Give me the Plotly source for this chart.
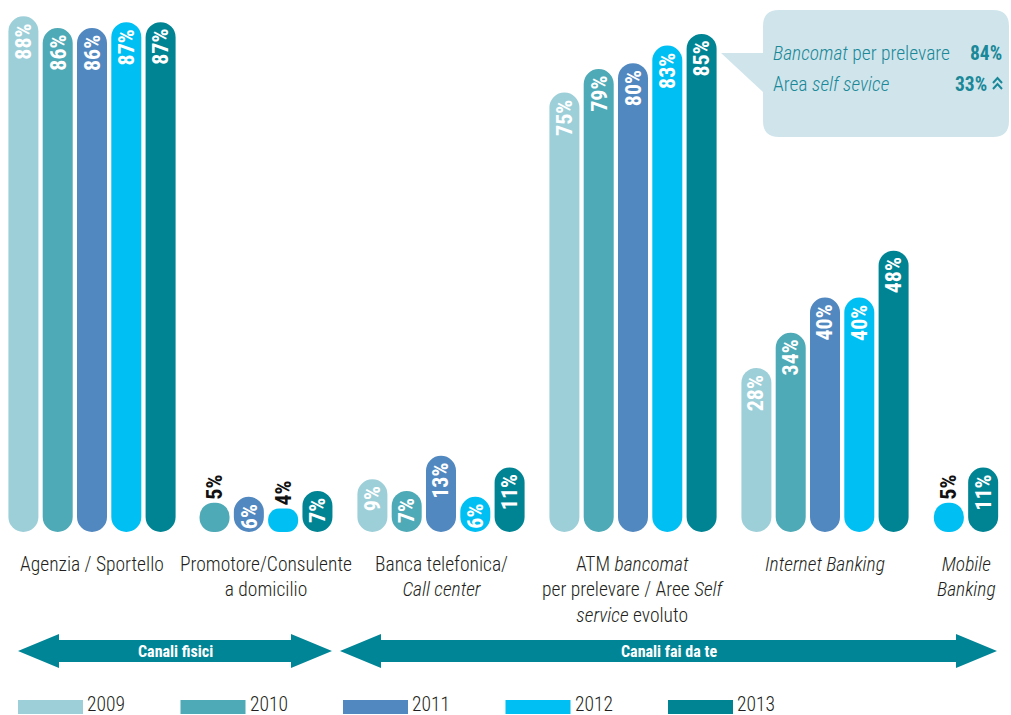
import plotly.graph_objects as go

# ---- data -------------------------------------------------------------
CATEGORIES = [
    "Agenzia / Sportello",
    "Promotore/Consulente<br>a domicilio",
    "Banca telefonica/<br><i>Call center</i>",
    "ATM <i>bancomat</i><br>per prelevare / Aree <i>Self</i><br><i>service</i> evoluto",
    "<i>Internet Banking</i>",
    "<i>Mobile</i><br><i>Banking</i>",
]
YEARS = ["2009", "2010", "2011", "2012", "2013"]
V2009 = [88, None, 9, 75, 28, None]
V2010 = [86, 5, 7, 79, 34, None]
V2011 = [86, 6, 13, 80, 40, None]
V2012 = [87, 4, 6, 83, 40, 5]
V2013 = [87, 7, 11, 85, 48, 11]
SERIES = [V2009, V2010, V2011, V2012, V2013]

CALLOUT_BANCOMAT = 84
CALLOUT_SELF = 33

# ---- styling / layout constants ---------------------------------------
COLORS = ["#9dcfd9", "#4eaab6", "#5288c0", "#00bff3", "#008494"]
TEAL = "#008596"
W, H = 1011, 715
GROUP_CENTERS = [92, 266, 441, 633, 825, 966]   # x pixel centre of each group
SLOT = 34.3                                      # distance between bars
BAR_W = 30
PX_PER_PCT = 5.86
ZERO_ROW = 532                                   # pixel row of the 0% line
SMALL = 6                                        # values below this get outside labels
COND = "'Roboto Condensed', 'DejaVu Sans Condensed', sans-serif"
TEXT_DARK = "#231f20"


def pp(x, y):
    """pixel position -> paper coordinates string"""
    return f"{x / W:.5f},{1 - y / H:.5f}"


def px_x(x):
    return x / W


def px_y(y):
    return 1 - y / H


# bar x positions: bars present in a group are centred on the group centre
positions = [[None] * len(CATEGORIES) for _ in YEARS]
for c in range(len(CATEGORIES)):
    present = [s for s in range(len(YEARS)) if SERIES[s][c] is not None]
    n = len(present)
    for k, s in enumerate(present):
        positions[s][c] = GROUP_CENTERS[c] + (k - (n - 1) / 2) * SLOT

fig = go.Figure()
shapes = []
annotations = []

# pill-shaped bars (explicit base -> both ends rounded)
for s, year in enumerate(YEARS):
    xs, ys, txt = [], [], []
    for c in range(len(CATEGORIES)):
        v = SERIES[s][c]
        if v is None:
            continue
        xs.append(positions[s][c])
        ys.append(v)
        # tiny bars: black label sitting above the dot
        txt.append(f"<b>{v}%</b>" if v < SMALL else "")
        if v >= SMALL:
            # white label running up inside the top of the bar
            annotations.append(dict(
                x=positions[s][c], y=v, xref="x", yref="y",
                text=f"<b>{v}%</b>", textangle=-90, showarrow=False,
                xanchor="center", yanchor="top", yshift=-6, borderpad=0,
                font=dict(family=COND, size=22, color="white"),
            ))
    fig.add_trace(go.Bar(
        x=xs, base=[0] * len(xs), y=ys, width=BAR_W, name=year,
        marker=dict(color=COLORS[s], line=dict(width=0), cornerradius="50%"),
        text=txt, textposition="outside", textangle=-90,
        constraintext="none", cliponaxis=False,
        outsidetextfont=dict(color="#111111", size=22, family=COND),
        showlegend=False, hoverinfo="skip",
    ))

# category labels
for c, label in enumerate(CATEGORIES):
    annotations.append(dict(
        x=GROUP_CENTERS[c], xref="x", y=px_y(551), yref="paper",
        text=label, showarrow=False, xanchor="center", yanchor="top",
        align="center", font=dict(family=COND, size=19.5, color=TEXT_DARK, weight=300),
    ))


# double-headed arrows
def arrow_path(x0, x1, yc, head=41, half_head=17, half_shaft=11):
    pts = [
        (x0, yc), (x0 + head, yc - half_head), (x0 + head, yc - half_shaft),
        (x1 - head, yc - half_shaft), (x1 - head, yc - half_head), (x1, yc),
        (x1 - head, yc + half_head), (x1 - head, yc + half_shaft),
        (x0 + head, yc + half_shaft), (x0 + head, yc + half_head),
    ]
    return "M" + " L".join(pp(*p) for p in pts) + " Z"


for (x0, x1, label) in [(18, 332, "Canali fisici"), (340, 997, "Canali fai da te")]:
    shapes.append(dict(type="path", xref="paper", yref="paper",
                       path=arrow_path(x0, x1, 651), fillcolor=TEAL,
                       line=dict(width=0)))
    annotations.append(dict(
        x=px_x((x0 + x1) / 2), y=px_y(651), xref="paper", yref="paper",
        text=f"<b>{label}</b>", showarrow=False, xanchor="center",
        yanchor="middle", font=dict(family=COND, size=16, color="white"),
    ))

# legend
for s, year in enumerate(YEARS):
    lx = 18 + s * 162.5
    shapes.append(dict(type="rect", xref="paper", yref="paper",
                       x0=px_x(lx), x1=px_x(lx + 65), y0=px_y(714), y1=px_y(700),
                       fillcolor=COLORS[s], line=dict(width=0)))
    annotations.append(dict(
        x=px_x(lx + 67), y=px_y(704), xref="paper", yref="paper",
        text=year, showarrow=False, xanchor="left", yanchor="middle",
        font=dict(family=COND, size=19.5, color=TEXT_DARK, weight=300),
    ))

# callout balloon
bx0, bx1, by0, by1, r = 763, 1009, 10, 137, 16
callout = (
    f"M{pp(bx0 + r, by0)} L{pp(bx1 - r, by0)} Q{pp(bx1, by0)} {pp(bx1, by0 + r)} "
    f"L{pp(bx1, by1 - r)} Q{pp(bx1, by1)} {pp(bx1 - r, by1)} "
    f"L{pp(bx0 + r, by1)} Q{pp(bx0, by1)} {pp(bx0, by1 - r)} "
    f"L{pp(bx0, 92)} L{pp(721, 53)} L{pp(bx0, 53)} "
    f"L{pp(bx0, by0 + r)} Q{pp(bx0, by0)} {pp(bx0 + r, by0)} Z"
)
shapes.append(dict(type="path", xref="paper", yref="paper", path=callout,
                   fillcolor="#cfe5eb", line=dict(width=0)))

CALL_TXT = "#1a8898"
annotations += [
    dict(x=px_x(771), y=px_y(53), xref="paper", yref="paper",
         text="<i>Bancomat</i> per prelevare", showarrow=False,
         xanchor="left", yanchor="middle",
         font=dict(family=COND, size=19.5, color=CALL_TXT, weight=300)),
    dict(x=px_x(1004), y=px_y(53), xref="paper", yref="paper",
         text=f"<b>{CALLOUT_BANCOMAT}%</b>", showarrow=False,
         xanchor="right", yanchor="middle",
         font=dict(family=COND, size=19.5, color=CALL_TXT)),
    dict(x=px_x(771), y=px_y(85), xref="paper", yref="paper",
         text="Area <i>self sevice</i>", showarrow=False,
         xanchor="left", yanchor="middle",
         font=dict(family=COND, size=19.5, color=CALL_TXT, weight=300)),
    dict(x=px_x(989), y=px_y(85), xref="paper", yref="paper",
         text=f"<b>{CALLOUT_SELF}%</b>", showarrow=False,
         xanchor="right", yanchor="middle",
         font=dict(family=COND, size=19.5, color=CALL_TXT)),
]
# double up-chevron
for top in (78, 84):
    shapes.append(dict(
        type="path", xref="paper", yref="paper",
        path=f"M{pp(993, top + 5)} L{pp(997.5, top)} L{pp(1002, top + 5)}",
        line=dict(color=CALL_TXT, width=2),
    ))

fig.update_layout(
    width=W, height=H,
    margin=dict(l=0, r=0, t=0, b=0),
    paper_bgcolor="white", plot_bgcolor="white",
    barmode="overlay",
    showlegend=False,
    xaxis=dict(range=[0, W], visible=False, fixedrange=True),
    yaxis=dict(range=[-(H - ZERO_ROW) / PX_PER_PCT, ZERO_ROW / PX_PER_PCT],
               visible=False, fixedrange=True),
    shapes=shapes,
    annotations=annotations,
)

fig.write_html("out.html")
